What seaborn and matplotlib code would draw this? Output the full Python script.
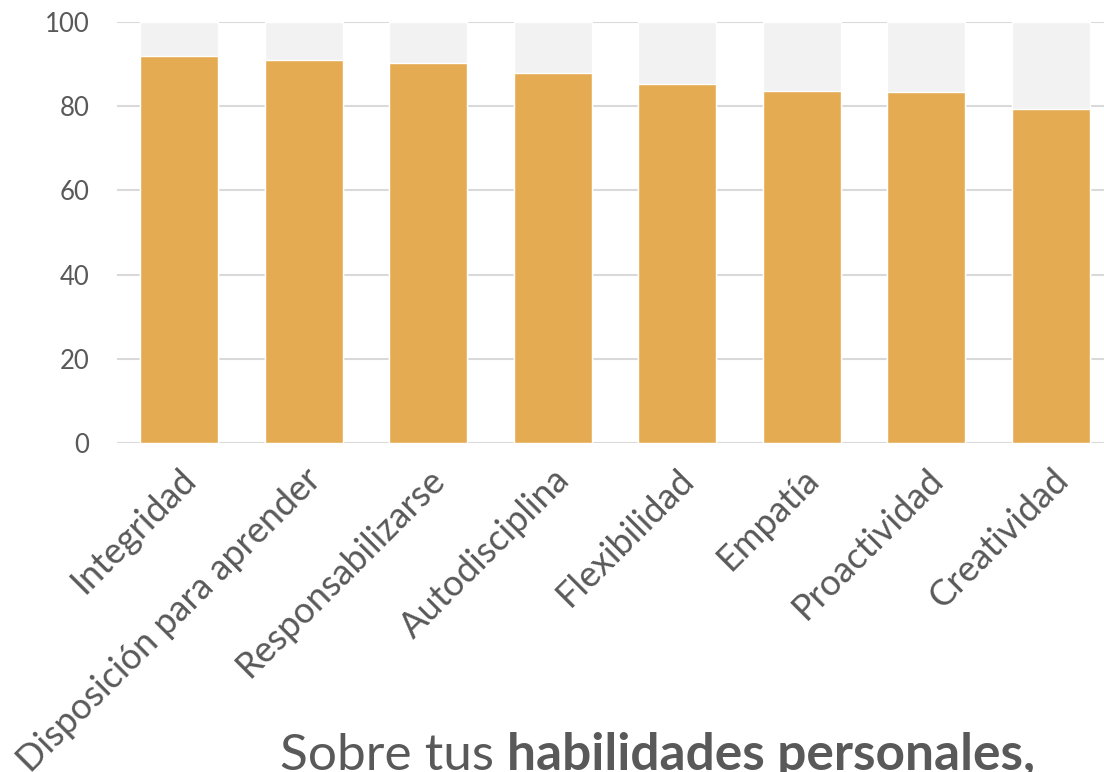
import numpy as np
import pandas as pd
import matplotlib
matplotlib.use('Agg')
import matplotlib.pyplot as plt
import seaborn as sns

# habilidades personales, % de respuestas
habilidades = ['Integridad', 'Disposición para aprender', 'Responsabilizarse',
               'Autodisciplina', 'Flexibilidad', 'Empatía', 'Proactividad',
               'Creatividad']
valores = [91.9, 91.0, 90.3, 87.9, 85.2, 83.6, 83.4, 79.3]
maximo = [100] * len(habilidades)

sns.set_theme(style='white')
plt.rcParams['font.family'] = ['Lato', 'DejaVu Sans']

df = pd.DataFrame({'habilidad': habilidades, 'valor': valores, 'max': maximo})

fig = plt.figure(figsize=(11.04, 7.72), dpi=100)
ax = fig.add_axes([117/1104, 1-443/772, 996/1104, 421/772])

# barras de fondo hasta 100
sns.barplot(data=df, x='habilidad', y='max', color='#F2F2F2', width=0.627,
            saturation=1, ax=ax, zorder=2)
sns.barplot(data=df, x='habilidad', y='valor', color='#E5AB52', width=0.627,
            saturation=1, ax=ax, zorder=3)

ax.set_ylim(0, 100)
ax.set_xlim(-0.5, 7.5)
ax.set_yticks([0, 20, 40, 60, 80, 100])
ax.yaxis.grid(True, color='#D9D9D9', linewidth=1.5, zorder=1)
ax.set_axisbelow(True)
for s in ax.spines.values():
    s.set_visible(False)
ax.set_xlabel('')
ax.set_ylabel('')
ax.tick_params(axis='y', length=0, pad=20, labelsize=18.5, labelcolor='#595959')
ax.tick_params(axis='x', length=0, pad=14, labelsize=26, labelcolor='#595959')
ax.set_xticks(range(len(habilidades)))
ax.set_xticklabels(habilidades, rotation=45, ha='right', rotation_mode='anchor')

# titulo abajo con parte en negrita (cortado por abajo como en el original)
t1 = fig.text(280/1104, 1-770/772, 'Sobre tus ', fontsize=37, color='#595959',
              va='baseline', ha='left')
fig.canvas.draw()
bb = t1.get_window_extent()
fig.text(bb.x1/1104, 1-770/772, 'habilidades personales,', fontsize=37,
         fontweight='bold', color='#595959', va='baseline', ha='left')

fig.savefig('out.png', dpi=100)
